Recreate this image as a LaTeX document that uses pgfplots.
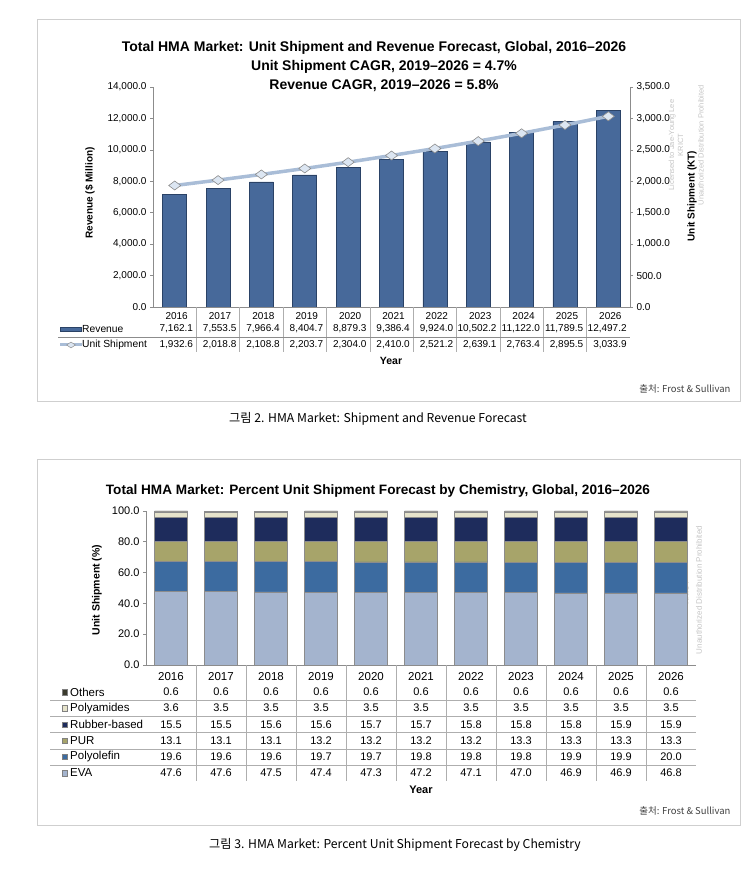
\documentclass[border=0pt]{standalone}
\usepackage{pgfplots}
\pgfplotsset{compat=1.18}
\usepackage{pgfplotstable}
\usetikzlibrary{shapes.geometric}
\usepackage{fontspec}
\setmainfont{Liberation Sans}
\newfontfamily\kr{Noto Sans CJK KR}

\definecolor{boxgray}{HTML}{CFCFCF}
\definecolor{axgray}{HTML}{8C8C8C}
\definecolor{revblue}{HTML}{47699A}
\definecolor{revedge}{HTML}{2A4266}
\definecolor{shipline}{HTML}{A9BDD7}
\definecolor{shipmark}{HTML}{DCE6F2}
\definecolor{cEVA}{HTML}{A4B4CE}
\definecolor{cPOLYO}{HTML}{3C6BA0}
\definecolor{cPUR}{HTML}{A7A46A}
\definecolor{cRUB}{HTML}{1E2C5C}
\definecolor{cPA}{HTML}{E6E3CB}
\definecolor{cOTH}{HTML}{3A3A2C}
\definecolor{wmark}{HTML}{C4C4C4}

% revenue in $ million, unit shipment in KT
\pgfplotstableread{
x year rev ship
0 2016 7162.1 1932.6
1 2017 7553.5 2018.8
2 2018 7966.4 2108.8
3 2019 8404.7 2203.7
4 2020 8879.3 2304.0
5 2021 9386.4 2410.0
6 2022 9924.0 2521.2
7 2023 10502.2 2639.1
8 2024 11122.0 2763.4
9 2025 11789.5 2895.5
10 2026 12497.2 3033.9
}\hmadata

% percent unit shipment by chemistry
\pgfplotstableread{
x year eva polyolefin pur rubber polyamides others
0 2016 47.6 19.6 13.1 15.5 3.6 0.6
1 2017 47.6 19.6 13.1 15.5 3.5 0.6
2 2018 47.5 19.6 13.1 15.6 3.5 0.6
3 2019 47.4 19.7 13.2 15.6 3.5 0.6
4 2020 47.3 19.7 13.2 15.7 3.5 0.6
5 2021 47.2 19.8 13.2 15.7 3.5 0.6
6 2022 47.1 19.8 13.2 15.8 3.5 0.6
7 2023 47.0 19.8 13.3 15.8 3.5 0.6
8 2024 46.9 19.9 13.3 15.8 3.5 0.6
9 2025 46.9 19.9 13.3 15.9 3.5 0.6
10 2026 46.8 20.0 13.3 15.9 3.5 0.6
}\chemdata

\pgfplotsset{
  tablerow/.style={
    hide axis, clip=false, scale only axis,
    xmin=-0.5, xmax=10.5,
    point meta=explicit,
    nodes near coords={\pgfmathprintnumber[fixed,fixed zerofill,precision=1,1000 sep={,},assume math mode=true]{\pgfplotspointmeta}},
    every node near coord/.append style={anchor=center, inner sep=0pt},
  },
}

\begin{document}
\begin{tikzpicture}
\path[use as bounding box] (0,0) rectangle (750pt,880pt);

% frames
\draw[boxgray, line width=0.9pt] (37pt,479pt) rectangle (740pt,861pt);
\draw[boxgray, line width=0.9pt] (37pt,55pt) rectangle (740pt,421pt);

% ---------------- chart 1 ----------------
\node[font=\bfseries\fontsize{14}{16}\selectfont] at (374pt,832pt) {Total HMA Market: Unit Shipment and Revenue Forecast, Global, 2016--2026};
\node[font=\bfseries\fontsize{14}{16}\selectfont] at (384pt,813pt) {Unit Shipment CAGR, 2019--2026 = 4.7\%};
\node[font=\bfseries\fontsize{14}{16}\selectfont] at (384pt,794pt) {Revenue CAGR, 2019--2026 = 5.8\%};

% watermark
\node[wmark, rotate=90, font=\fontsize{7.5}{9}\selectfont, align=center] at (676pt,735pt) {Licensed to Jae-Young Lee\\KRICT};
\node[wmark, rotate=90, font=\fontsize{7.5}{9}\selectfont] at (701pt,735pt) {Unauthorized Distribution Prohibited};

\begin{axis}[
  at={(153pt,573pt)}, anchor=south west, scale only axis,
  width=477pt, height=220pt,
  xmin=-0.5, xmax=10.5, ymin=0, ymax=14000,
  axis y line*=left, axis x line*=bottom,
  axis line style={axgray, line width=0.8pt},
  xtick=data, xticklabels from table={\hmadata}{year},
  xtick style={draw=none},
  ytick={0,2000,...,14000}, scaled y ticks=false,
  yticklabel={\pgfmathprintnumber[fixed,fixed zerofill,precision=1,1000 sep={,},assume math mode=true]{\tick}},
  tick align=outside, major tick length=3pt,
  ytick style={axgray, line width=0.6pt},
  tick label style={font=\fontsize{10}{11}\selectfont},
  xticklabel style={yshift=1.5pt, xshift=2pt},
]
\addplot[ybar, bar width=24pt, draw=revedge, line width=0.6pt, fill=revblue]
  table[x=x, y=rev]{\hmadata};
\end{axis}

\begin{axis}[
  at={(153pt,573pt)}, anchor=south west, scale only axis,
  width=477pt, height=220pt,
  xmin=-0.5, xmax=10.5, ymin=0, ymax=3500,
  axis y line*=right, axis x line=none,
  axis line style={axgray, line width=0.8pt},
  ytick={0,500,...,3500}, scaled y ticks=false,
  yticklabel={\pgfmathprintnumber[fixed,fixed zerofill,precision=1,1000 sep={,},assume math mode=true]{\tick}},
  tick align=outside, major tick length=3pt,
  ytick style={axgray, line width=0.6pt},
  tick label style={font=\fontsize{10}{11}\selectfont},
  clip=false,
]
\addplot[shipline, line width=3.5pt, mark=diamond*, mark size=6pt,
  mark options={rotate=90, fill=shipmark, draw=axgray, line width=0.6pt}]
  table[x=x, y=ship]{\hmadata};
\end{axis}

\node[rotate=90, font=\bfseries\fontsize{10}{11}\selectfont] at (90pt,687pt) {Revenue (\$ Million)};
\node[rotate=90, font=\bfseries\fontsize{10}{11}\selectfont] at (692pt,684pt) {Unit Shipment (KT)};

% data table under chart 1
\foreach \k in {1,...,10}
  \draw[axgray!70, line width=0.6pt] ({(153+43.364*\k)*1pt},573pt) -- ({(153+43.364*\k)*1pt},528pt);
\draw[axgray, line width=0.8pt] (58pt,543pt) -- (630pt,543pt);
\filldraw[fill=revblue, draw=revedge, line width=0.5pt] (60pt,548.5pt) rectangle (81pt,553pt);
\draw[shipline, line width=3pt] (60pt,535pt) -- (82pt,535pt);
\node[diamond, fill=shipmark, draw=axgray, line width=0.5pt, inner sep=0pt, minimum width=9pt, minimum height=6pt] at (71pt,535pt) {};
\node[anchor=west, font=\fontsize{10.3}{11}\selectfont, inner sep=0pt] at (82pt,551pt) {Revenue};
\node[anchor=west, font=\fontsize{10.3}{11}\selectfont, inner sep=0pt] at (82pt,535pt) {Unit Shipment};

\begin{axis}[tablerow, at={(153pt,535pt)}, anchor=south west,
  width=477pt, height=16pt, ymin=0, ymax=1,
  every node near coord/.append style={font=\fontsize{10}{11}\selectfont, anchor=east, xshift=18.5pt}]
\addplot[draw=none, mark=none] table[x=x, y expr=1, meta=rev]{\hmadata};
\addplot[draw=none, mark=none] table[x=x, y expr=0, meta=ship]{\hmadata};
\end{axis}

\node[font=\bfseries\fontsize{10.5}{12}\selectfont] at (391pt,519pt) {Year};
\node[anchor=east, text=black!75, font=\kr\fontsize{9.5}{11}\selectfont] at (734pt,491pt) {출처: Frost \& Sullivan};
\node[font=\kr\fontsize{12.2}{14}\selectfont] at (378pt,461pt) {그림 2. HMA Market: Shipment and Revenue Forecast};

% ---------------- chart 2 ----------------
\node[font=\bfseries\fontsize{13.6}{15}\selectfont] at (378pt,389pt) {Total HMA Market: Percent Unit Shipment Forecast by Chemistry, Global, 2016--2026};

\node[wmark, rotate=90, font=\fontsize{8}{9.5}\selectfont, align=center] at (681pt,287pt) {Licensed to Jae-Young Lee\\KRICT};
\node[wmark, rotate=90, font=\fontsize{8}{9.5}\selectfont] at (699pt,290pt) {Unauthorized Distribution Prohibited};

\begin{axis}[
  at={(146pt,215pt)}, anchor=south west, scale only axis,
  width=550pt, height=154pt,
  xmin=-0.5, xmax=10.5, ymin=0, ymax=100,
  ybar stacked, bar width=33pt,
  axis y line*=left, axis x line*=bottom,
  axis line style={axgray, line width=0.8pt},
  xtick=data, xticklabels from table={\chemdata}{year},
  xtick style={draw=none},
  ytick={0,20,...,100},
  yticklabel={\pgfmathprintnumber[fixed,fixed zerofill,precision=1,assume math mode=true]{\tick}},
  tick align=outside, major tick length=3pt,
  ytick style={axgray, line width=0.6pt},
  tick label style={font=\fontsize{11}{12}\selectfont},
  xticklabel style={font=\fontsize{11.5}{12}\selectfont, yshift=-1pt},
]
\addplot[draw=black!45, line width=0.5pt, fill=cEVA] table[x=x, y=eva]{\chemdata};
\addplot[draw=black!45, line width=0.5pt, fill=cPOLYO] table[x=x, y=polyolefin]{\chemdata};
\addplot[draw=black!45, line width=0.5pt, fill=cPUR] table[x=x, y=pur]{\chemdata};
\addplot[draw=black!45, line width=0.5pt, fill=cRUB] table[x=x, y=rubber]{\chemdata};
\addplot[draw=black!45, line width=0.5pt, fill=cPA] table[x=x, y=polyamides]{\chemdata};
\addplot[draw=black!45, line width=0.5pt, fill=cOTH] table[x=x, y=others]{\chemdata};
\end{axis}

\node[rotate=90, font=\bfseries\fontsize{10.5}{12}\selectfont] at (97pt,290pt) {Unit Shipment (\%)};

% data table under chart 2
\foreach \k in {1,...,10}
  \draw[axgray!70, line width=0.6pt] ({(146+50*\k)*1pt},215pt) -- ({(146+50*\k)*1pt},99pt);
\foreach \yy in {180,164,147.5,131,115}
  \draw[axgray!70, line width=0.6pt] (50pt,{\yy*1pt}) -- (696pt,{\yy*1pt});
\foreach \yy/\c/\lab in {188/cOTH/Others, 171.8/cPA/Polyamides, 155.6/cRUB/Rubber-based, 139.4/cPUR/PUR, 123.2/cPOLYO/Polyolefin, 107/cEVA/EVA} {
  \fill[\c, draw=black!50, line width=0.3pt] (62pt,{(\yy-2.7)*1pt}) rectangle (67.5pt,{(\yy+2.7)*1pt});
  \node[anchor=west, font=\fontsize{11.5}{12}\selectfont, inner sep=0pt] at (70pt,{\yy*1pt}) {\lab};
}

\begin{axis}[tablerow, at={(146pt,107pt)}, anchor=south west,
  width=550pt, height=81pt, ymin=0, ymax=5,
  every node near coord/.append style={font=\fontsize{11}{12}\selectfont}]
\addplot[draw=none, mark=none] table[x=x, y expr=5, meta=others]{\chemdata};
\addplot[draw=none, mark=none] table[x=x, y expr=4, meta=polyamides]{\chemdata};
\addplot[draw=none, mark=none] table[x=x, y expr=3, meta=rubber]{\chemdata};
\addplot[draw=none, mark=none] table[x=x, y expr=2, meta=pur]{\chemdata};
\addplot[draw=none, mark=none] table[x=x, y expr=1, meta=polyolefin]{\chemdata};
\addplot[draw=none, mark=none] table[x=x, y expr=0, meta=eva]{\chemdata};
\end{axis}

\node[font=\bfseries\fontsize{11}{12}\selectfont] at (421pt,90pt) {Year};
\node[anchor=east, text=black!75, font=\kr\fontsize{9.5}{11}\selectfont] at (734pt,69pt) {출처: Frost \& Sullivan};
\node[font=\kr\fontsize{12.2}{14}\selectfont] at (395pt,35pt) {그림 3. HMA Market: Percent Unit Shipment Forecast by Chemistry};
\end{tikzpicture}
\end{document}
